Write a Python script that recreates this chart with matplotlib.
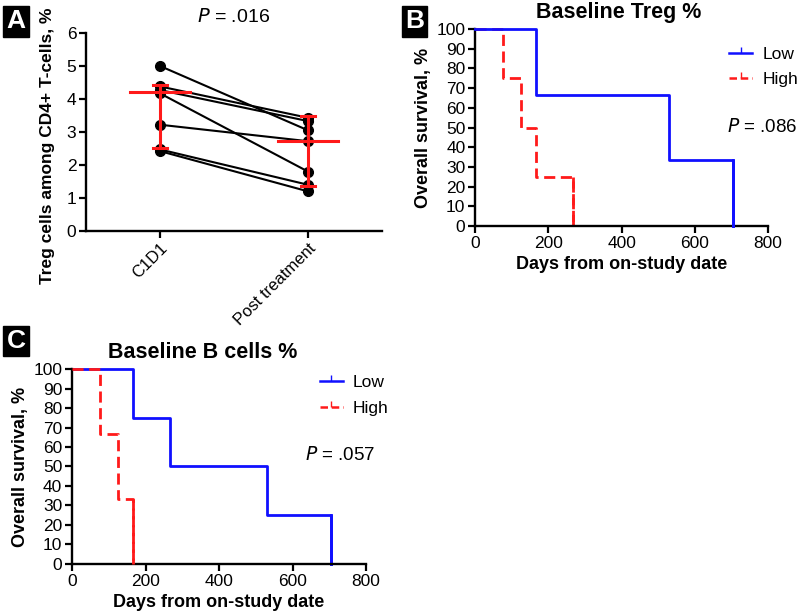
import numpy as np
import matplotlib.pyplot as plt
from matplotlib.lines import Line2D

plt.rcParams['font.family'] = ['Liberation Sans', 'DejaVu Sans']

# panel A: paired Treg % values
groups = ["C1D1", "Post treatment"]
treg_c1d1 = [5.0, 4.38, 4.27, 4.17, 3.22, 2.47, 2.42]
treg_post = [3.05, 3.43, 3.33, 1.80, 2.72, 1.40, 1.20]
treg_mid = [4.2, 2.72]
treg_lo = [2.52, 1.37]
treg_hi = [4.43, 3.49]

# panel B: KM steps, baseline Treg
b_low_t = [0, 166, 530, 705]
b_low_s = [100, 66.7, 33.3, 0]
b_high_t = [0, 75, 125, 165, 268]
b_high_s = [100, 75, 50, 25, 0]

# panel C: KM steps, baseline B cells
c_low_t = [0, 166, 268, 530, 705]
c_low_s = [100, 75, 50, 25, 0]
c_high_t = [0, 75, 124, 165]
c_high_s = [100, 66.7, 33.3, 0]

BLUE = "#1010ff"
RED = "#ff1a1a"

fig = plt.figure(figsize=(8, 6.11), dpi=100)

def style(ax):
    for s in ["top", "right"]:
        ax.spines[s].set_visible(False)
    for s in ["left", "bottom"]:
        ax.spines[s].set_linewidth(1.7)
    ax.tick_params(width=1.6, length=5, labelsize=12.5, pad=2)

# ---- A ----
axA = fig.add_axes([0.1075, 0.622, 0.37, 0.324])
style(axA)
for a, b in zip(treg_c1d1, treg_post):
    axA.plot([0, 1], [a, b], color="black", lw=1.5, marker="o", ms=7, zorder=2)
for i in range(2):
    axA.plot([i - 0.2, i + 0.2], [treg_mid[i]] * 2, color=RED, lw=2.2, zorder=3)
    axA.plot([i, i], [treg_lo[i], treg_hi[i]], color=RED, lw=2.2, zorder=3)
    for v in (treg_lo[i], treg_hi[i]):
        axA.plot([i - 0.045, i + 0.045], [v, v], color=RED, lw=2.2, zorder=3)
axA.set_xlim(-0.5, 1.5)
axA.set_ylim(0, 6)
axA.set_yticks(range(7))
axA.set_xticks([0, 1])
axA.set_xticklabels(groups, rotation=45, ha="right", rotation_mode="anchor", fontsize=12)
axA.set_ylabel("Treg cells among CD4+ T-cells, %", fontweight="bold", fontsize=12.5)
axA.yaxis.set_label_coords(-0.105, 0.43)
axA.set_title("$\\it{P}$ = .016", fontsize=14, pad=8)

# ---- KM panels ----
def km(ax, t, s, color, ls, z):
    ax.step(t, s, where="post", color=color, ls=ls, lw=2, clip_on=False, zorder=z)
    ax.plot([t[-1], t[-1]], [s[-2], 0], color=color, ls=ls, lw=2, clip_on=False, zorder=z)

def km_axes(rect, title, lt, ls_, ht, hs, pval, red_top, leg_xy, p_xy, title_x):
    ax = fig.add_axes(rect)
    style(ax)
    km(ax, lt, ls_, BLUE, "-", 3 if not red_top else 2)
    km(ax, ht, hs, RED, (0, (4, 2)), 2 if not red_top else 3)
    ax.set_xlim(0, 800)
    ax.set_ylim(0, 100)
    ax.set_xticks(range(0, 801, 200))
    ax.set_yticks(range(0, 101, 10))
    ax.set_xlabel("Days from on-study date", fontweight="bold", fontsize=13, labelpad=4)
    ax.set_ylabel("Overall survival, %", fontweight="bold", fontsize=13, labelpad=3)
    ax.set_title(title, fontweight="bold", fontsize=15.5, pad=8, x=title_x)
    handles = [Line2D([0, 1], [0, 0], color=BLUE, lw=1.8, marker=2, ms=4),
               Line2D([0, 1], [0, 0], color=RED, lw=1.8, ls=(0, (3, 1.5)), marker=2, ms=4)]
    ax.legend(handles, ["Low", "High"], loc="center left", bbox_to_anchor=leg_xy,
              frameon=False, fontsize=12.5, handlelength=1.3, handletextpad=0.6, labelspacing=0.6,
              borderaxespad=0, borderpad=0, numpoints=1)
    ax.text(p_xy[0], p_xy[1], "$\\it{P}$ = " + pval, transform=ax.transAxes, fontsize=13.5, va="center")
    return ax

axB = km_axes([0.594, 0.63, 0.366, 0.3224], "Baseline Treg %",
              b_low_t, b_low_s, b_high_t, b_high_s, ".086", False,
              (0.868, 0.807), (0.86, 0.503), 0.49)
axC = km_axes([0.09, 0.077, 0.3675, 0.319], "Baseline B cells %",
              c_low_t, c_low_s, c_high_t, c_high_s, ".057", True,
              (0.844, 0.864), (0.793, 0.559), 0.446)

# panel letters
for x, y, lab in [(0.008, 0.965, "A"), (0.506, 0.965, "B"), (0.008, 0.442, "C")]:
    fig.text(x, y, lab, color="white", fontsize=19, fontweight="bold", va="center", ha="left",
             bbox=dict(boxstyle="square,pad=0.12", fc="black", ec="black"))

fig.savefig("out.png", dpi=100)
